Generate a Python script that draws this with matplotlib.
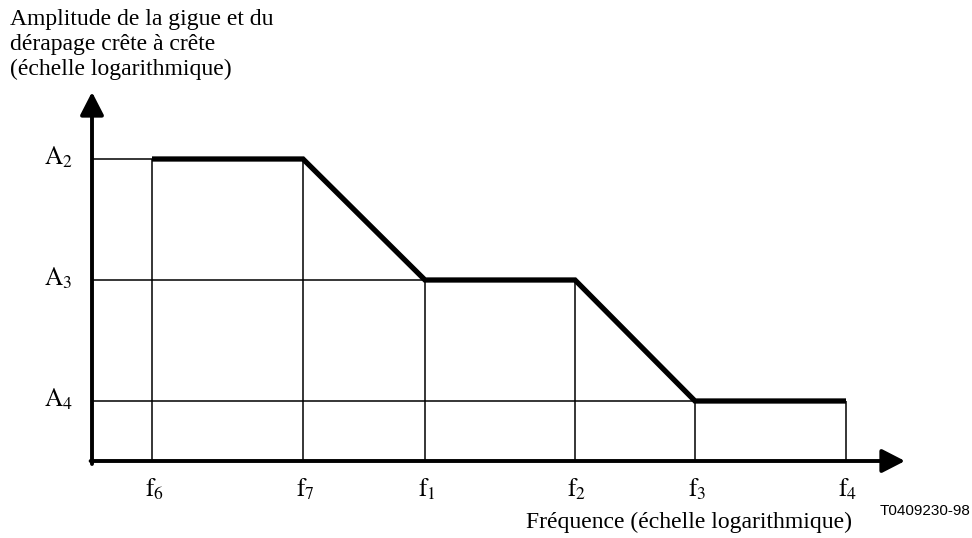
import numpy as np
import matplotlib
matplotlib.use('Agg')
import matplotlib.pyplot as plt

plt.rcParams['font.family'] = ['Liberation Serif', 'DejaVu Serif']
plt.rcParams['mathtext.fontset'] = 'stix'

# positions on the log axes (arbitrary units)
freq_labels = ['6', '7', '1', '2', '3', '4']
freq_pos = [0.60, 2.11, 3.33, 4.83, 6.03, 7.54]
amp_labels = ['2', '3', '4']
amp_pos = [3.02, 1.81, 0.60]
# where each thin amplitude line stops
amp_end = [0.60, 4.83, 6.03]

# the mask: level held between two frequencies
mask_x = [0.60, 2.11, 3.33, 4.83, 6.03, 7.54]
mask_y = [3.02, 3.02, 1.81, 1.81, 0.60, 0.60]

x_max, y_max = 8.13, 3.69

fig = plt.figure(figsize=(9.72, 5.38), dpi=100)
W, H = 972, 538
ax = fig.add_axes([92 / W, (H - 461) / H, (905 - 92) / W, (461 - 92) / H])
ax.set_xlim(0, x_max)
ax.set_ylim(0, y_max)
ax.axis('off')

thin = dict(color='black', lw=1.1, solid_capstyle='butt')

# thin reference lines
for a, x_end in zip(amp_pos, amp_end):
    ax.plot([0, x_end], [a, a], **thin)
for x, y in zip(mask_x, mask_y):
    ax.plot([x, x], [0, y], **thin)

ax.plot(mask_x, mask_y, color='black', lw=3.8, solid_capstyle='butt',
        solid_joinstyle='miter')

# axes with arrowheads
arrow = dict(arrowstyle='-|>,head_length=0.7,head_width=0.36', lw=2.8,
             color='black', mutation_scale=20, shrinkA=0, shrinkB=0)
ax.annotate('', xy=(x_max, 0), xytext=(-0.014, 0), arrowprops=arrow,
            annotation_clip=False)
ax.annotate('', xy=(0, y_max), xytext=(0, -0.03), arrowprops=arrow,
            annotation_clip=False)

for lab, a in zip(amp_labels, amp_pos):
    ax.text(-0.34, a + 0.02, f'$\\mathrm{{A}}_{{{lab}}}$', ha='center', va='center',
            fontsize=18, clip_on=False)
for lab, f in zip(freq_labels, freq_pos):
    ax.text(f + 0.02, -0.28, f'$\\mathrm{{f}}_{{{lab}}}$', ha='center', va='center',
            fontsize=18, clip_on=False)

fig.text(10 / W, 1 - 9 / H,
         'Amplitude de la gigue et du\ndérapage crête à crête\n(échelle logarithmique)',
         ha='left', va='top', fontsize=17, linespacing=1.25)
fig.text(852 / W, 1 - 522 / H, 'Fréquence (échelle logarithmique)',
         ha='right', va='center', fontsize=17)
fig.text(970 / W, 1 - 511 / H, 'T0409230-98', ha='right', va='center',
         fontsize=11, family='Liberation Sans')

fig.savefig('out.png', dpi=100)
